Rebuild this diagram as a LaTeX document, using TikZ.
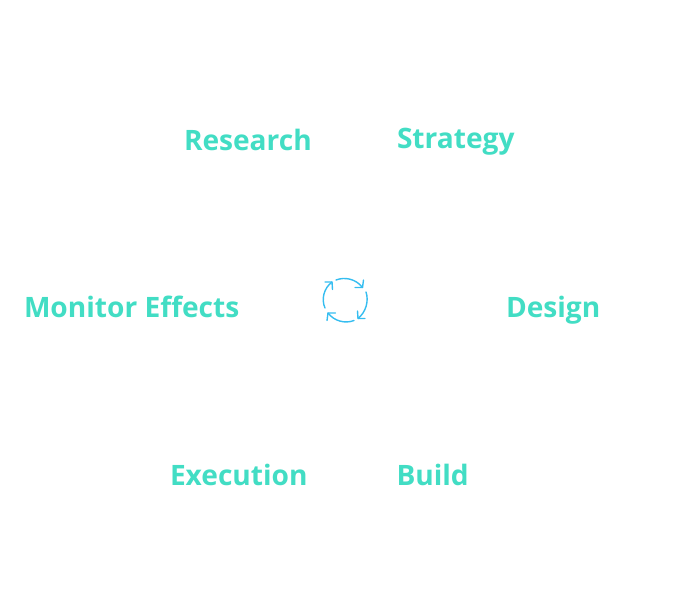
\documentclass[tikz,border=0pt]{standalone}
\usepackage{fontspec}
\setmainfont{Open Sans}
\definecolor{labelc}{HTML}{42DDC4}
\definecolor{iconc}{HTML}{35BDF0}
\tikzset{
  lab/.style={anchor=base west,inner sep=0pt,outer sep=0pt,text=labelc,font=\fontsize{28.1}{34}\selectfont\bfseries},
  cyc/.style={draw=iconc,line width=1.4pt,line cap=round,line join=round}
}
\begin{document}
\begin{tikzpicture}[x=1pt,y=-1pt]
\useasboundingbox (0,0) rectangle (692,605);
\node[lab] (research) at (184,150) {Research};
\node[lab] (strategy) at (397,148) {Strategy};
\node[lab] (monitor) at (24,317) {Monitor Effects};
\node[lab] (design) at (506,317) {Design};
\node[lab] (execution) at (170,485) {Execution};
\node[lab] (build) at (396.5,485) {Build};
% cycle icon
\draw[cyc] (336,280) .. controls (345,276.5) and (356,279) .. (362.5,287.5);
\draw[cyc] (355,287.5) -- (362.5,287.5) -- (363.5,280);
\draw[cyc] (366,292) .. controls (369,301) and (366,312) .. (358,318.5);
\draw[cyc] (357.5,311) -- (358,318.5) -- (365,318.5);
\draw[cyc] (354,320.5) .. controls (345,324) and (334,321) .. (328,313);
\draw[cyc] (335.5,313) -- (328,313) -- (327,320.5);
\draw[cyc] (325,308) .. controls (321,299) and (324,288) .. (332,282);
\draw[cyc] (332.5,289.5) -- (332,282) -- (325,282);
\end{tikzpicture}
\end{document}
